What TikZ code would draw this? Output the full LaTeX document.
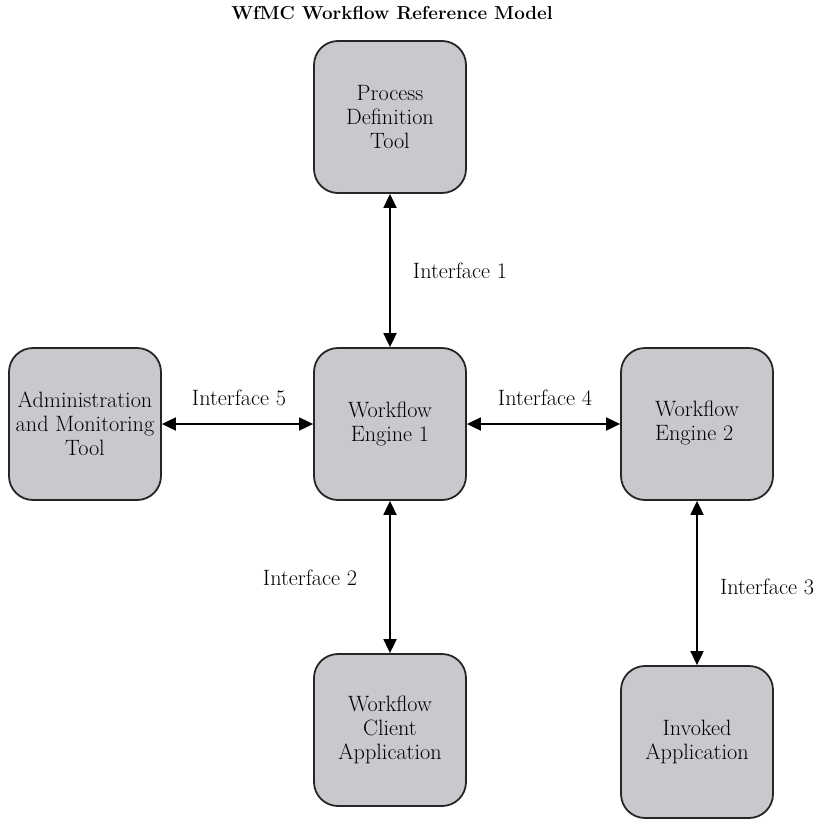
\documentclass[tikz,border=0pt]{standalone}
\usepackage{fontspec}
\setmainfont{Latin Modern Roman}
\usetikzlibrary{arrows.meta}
\definecolor{boxgray}{RGB}{200,201,204}
\begin{document}
\begin{tikzpicture}[x=1pt,y=-1pt,
  comp/.style={draw=black!85,line width=1.8pt,fill=boxgray,
    rounded corners=24pt,minimum width=152pt,minimum height=152pt,
    inner sep=1pt,align=center,font=\fontsize{22.2}{24}\selectfont},
  iface/.style={font=\fontsize{22.2}{24}\selectfont},
  link/.style={line width=1.8pt,{Triangle[length=14pt,width=13pt]}-{Triangle[length=14pt,width=13pt]}}]
  \useasboundingbox (0,0) rectangle (816,819);
  \fill[white] (0,0) rectangle (816,819);
  \node[font=\fontsize{18.8}{22}\selectfont\bfseries] (title) at (392,13) {WfMC Workflow Reference Model};
  \node[comp] (pdt) at (390,117) {Process\\Definition\\Tool};
  \node[comp] (adm) at (85,424) {Administration\\and Monitoring\\Tool};
  \node[comp] (we1) at (390,424) {Workflow\\Engine 1};
  \node[comp] (we2) at (697,424) {\begin{tabular}{@{}l@{}}Workflow\\Engine 2\end{tabular}};
  \node[comp] (wca) at (390,730) {Workflow\\Client\\Application};
  \node[comp] (ia) at (697,742) {Invoked\\Application};
  \draw[link] (pdt) -- (we1);
  \draw[link] (adm) -- (we1);
  \draw[link] (we1) -- (we2);
  \draw[link] (we1) -- (wca);
  \draw[link] (we2) -- (ia);
  \node[iface] (i1) at (460,271) {Interface 1};
  \node[iface] (i5) at (239,398) {Interface 5};
  \node[iface] (i4) at (545,398) {Interface 4};
  \node[iface] (i2) at (310,578) {Interface 2};
  \node[iface] (i3) at (767,587) {Interface 3};
\end{tikzpicture}
\end{document}
